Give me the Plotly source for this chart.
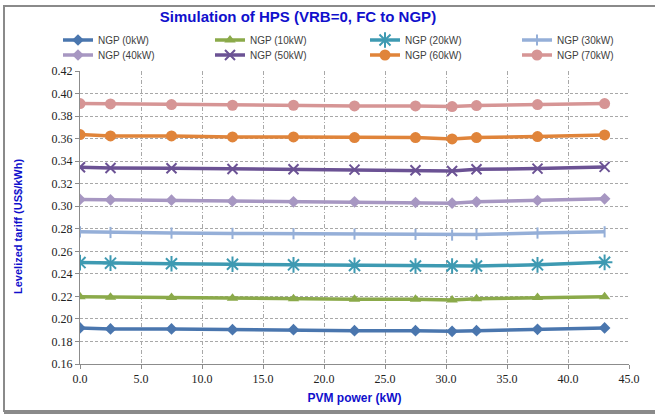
import plotly.graph_objects as go

pv_power = [0, 2.5, 7.5, 12.5, 17.5, 22.5, 27.5, 30.5, 32.5, 37.5, 43]

series_names = ["NGP (0kW)", "NGP (10kW)", "NGP (20kW)", "NGP (30kW)",
                "NGP (40kW)", "NGP (50kW)", "NGP (60kW)", "NGP (70kW)"]

ngp0 = [0.1920, 0.1911, 0.1911, 0.1905, 0.1905, 0.1896, 0.1896, 0.1890, 0.1896, 0.1908, 0.1920]
ngp10 = [0.2196, 0.2193, 0.2190, 0.2184, 0.2178, 0.2175, 0.2175, 0.2168, 0.2178, 0.2190, 0.2196]
ngp20 = [0.2500, 0.2495, 0.2490, 0.2485, 0.2480, 0.2475, 0.2470, 0.2470, 0.2470, 0.2480, 0.2502]
ngp30 = [0.2773, 0.2767, 0.2762, 0.2759, 0.2756, 0.2753, 0.2750, 0.2744, 0.2750, 0.2762, 0.2773]
ngp40 = [0.3060, 0.3057, 0.3054, 0.3045, 0.3039, 0.3039, 0.3033, 0.3027, 0.3039, 0.3051, 0.3066]
ngp50 = [0.3346, 0.3340, 0.3337, 0.3331, 0.3328, 0.3325, 0.3319, 0.3313, 0.3328, 0.3334, 0.3349]
ngp60 = [0.3636, 0.3624, 0.3624, 0.3615, 0.3615, 0.3609, 0.3609, 0.3597, 0.3609, 0.3618, 0.3633]
ngp70 = [0.3911, 0.3908, 0.3902, 0.3896, 0.3896, 0.3890, 0.3890, 0.3884, 0.3893, 0.3902, 0.3911]

all_series = [ngp0, ngp10, ngp20, ngp30, ngp40, ngp50, ngp60, ngp70]

colors = ["#4A76AE", "#8BAA4A", "#3E9AB2", "#95AFD8",
          "#A797C2", "#6B5294", "#E0843A", "#D69595"]
symbols = ["diamond", "triangle-up", "asterisk-open", "line-ns-open",
           "diamond", "x-thin-open", "circle", "circle"]
sizes = [9, 10, 13, 8, 9, 10, 11, 11]

W, H = 655, 414
L, R, T, B = 80, 26, 71, 50
pw = W - L - R
ph = H - T - B

def px_x(p):
    return (p - L) / pw

def px_y(p):
    return 1 - (p - T) / ph

legend_ids = ["legend", "legend2", "legend3", "legend4",
              "legend5", "legend6", "legend7", "legend8"]
col_px = [58, 210, 365, 517]
row_px = [40, 55]

fig = go.Figure()
for i, (name, vals, c, s, sz) in enumerate(zip(series_names, all_series, colors, symbols, sizes)):
    open_sym = s.endswith("-open")
    fig.add_trace(go.Scatter(
        x=pv_power, y=vals, name=name, mode="lines+markers",
        legend=legend_ids[i],
        line=dict(color=c, width=3.5),
        marker=dict(symbol=s, size=sz, color=c,
                    line=dict(color=c, width=2 if open_sym else 0)),
    ))

legend_layout = {}
for i, lid in enumerate(legend_ids):
    legend_layout[lid] = dict(
        xref="container", yref="container",
        x=col_px[i % 4] / W, xanchor="left",
        y=1 - row_px[i // 4] / H, yanchor="middle",
        font=dict(size=10, color="#404040", family="Liberation Sans"),
        bgcolor="rgba(0,0,0,0)", borderwidth=0,
    )

fig.update_layout(
    width=W, height=H,
    margin=dict(l=L, r=R, t=T, b=B, autoexpand=False),
    paper_bgcolor="white", plot_bgcolor="white",
    font=dict(family="Liberation Sans", color="#404040"),
    title=dict(text="<b>Simulation of HPS (VRB=0, FC to NGP)</b>",
               x=298 / W, xanchor="center", y=1 - 17 / H, yanchor="middle",
               font=dict(size=15, color="#1010CC", family="Liberation Sans")),
    showlegend=True,
    xaxis=dict(range=[0, 45], dtick=5, tick0=0, tickformat=".1f",
               showgrid=True, gridcolor="#A8A8A8", griddash="4px,2px,1px,2px", gridwidth=1,
               showline=True, linecolor="#8C8C8C", linewidth=1,
               ticks="outside", ticklen=4, tickcolor="#8C8C8C",
               zeroline=False,
               tickfont=dict(family="Liberation Serif", size=12, color="#222222"),
               title=dict(text="<b>PVM power (kW)</b>", standoff=8,
                          font=dict(size=12, color="#1010CC", family="Liberation Sans"))),
    yaxis=dict(range=[0.16, 0.42], dtick=0.02, tick0=0.16, tickformat=".2f",
               showgrid=True, gridcolor="#A8A8A8", griddash="3px,2px", gridwidth=1,
               showline=True, linecolor="#8C8C8C", linewidth=1,
               ticks="outside", ticklen=4, tickcolor="#8C8C8C",
               zeroline=False,
               tickfont=dict(family="Liberation Serif", size=12, color="#222222")),
    annotations=[
        dict(text="<b>Levelized tariff (US$/kWh)</b>", textangle=-90,
             xref="paper", yref="paper", x=px_x(18), y=px_y(227),
             xanchor="center", yanchor="middle", showarrow=False,
             font=dict(size=11, color="#1010CC", family="Liberation Sans")),
    ],
    shapes=[
        dict(type="rect", xref="paper", yref="paper",
             x0=px_x(4), x1=px_x(670), y0=px_y(411), y1=px_y(6),
             line=dict(color="#8A8A8A", width=2), fillcolor="rgba(0,0,0,0)",
             layer="below"),
        dict(type="line", xref="paper", yref="paper",
             x0=px_x(4), x1=px_x(670), y0=px_y(412), y1=px_y(412),
             line=dict(color="#8A8A8A", width=4)),
    ],
    **legend_layout,
)

fig.write_html("out.html",
               config={"displayModeBar": False},
               post_script="document.body.style.margin='0';document.body.style.overflow='hidden';")
